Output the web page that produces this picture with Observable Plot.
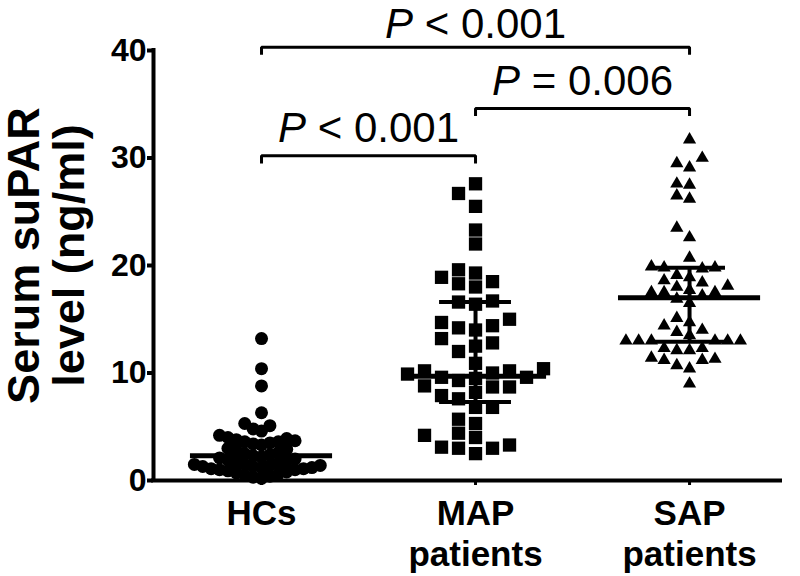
<!DOCTYPE html>
<html>
<head>
<meta charset="utf-8">
<script src="https://cdn.jsdelivr.net/npm/d3@7"></script>
<script src="https://cdn.jsdelivr.net/npm/@observablehq/plot@0.6"></script>
<style>
  html, body { margin: 0; padding: 0; background: #fff; }
</style>
</head>
<body>
<script>
// ---- data ----
const categories = ["HCs", "MAP patients", "SAP patients"];
const tickLabels = ["HCs", "MAP\npatients", "SAP\npatients"];

const hcs = [13.2, 10.4, 8.8, 6.3, 5.3, 5.1, 4.8, 4.6,
  4.2, 4.0, 3.9, 3.8, 3.7, 3.6, 3.6, 3.5, 3.4, 3.3,
  3.0, 2.9, 2.8, 2.6, 2.5, 2.4, 2.3, 2.2, 2.1, 2.0,
  1.9, 1.8, 1.7, 1.6, 1.5, 1.5, 1.4, 1.4, 1.3, 1.3, 1.2, 1.2, 1.1, 1.1, 1.0, 1.0,
  0.9, 0.8, 0.7, 0.6, 0.5, 0.4, 0.3, 0.2];

const mapPatients = [27.6, 26.7, 25.5, 23.3, 22.0, 19.6, 19.3, 18.9, 18.5, 18.3, 18.0,
  16.7, 16.6, 16.4, 15.0, 14.7, 14.4, 14.2, 14.0, 13.2, 12.8, 12.5, 12.0,
  10.9, 10.4, 10.2, 10.2, 10.0, 9.9, 9.6, 9.6, 9.5, 9.3, 8.8, 8.7, 8.7, 8.2, 7.9, 7.6,
  6.8, 6.8, 5.7, 5.3, 4.4, 4.2, 4.0, 3.3, 3.1, 3.0, 3.0, 2.5];

const sapPatients = [31.7, 30.0, 29.5, 29.1, 27.6, 27.5, 26.5, 26.2, 23.5, 22.6, 20.7,
  19.9, 19.8, 19.8, 19.7, 19.1, 18.9, 18.6, 18.4, 18.1, 18.0, 17.7, 17.5, 17.5, 17.5,
  17.2, 16.9, 16.5, 15.1, 14.7, 14.4, 14.0, 13.8, 13.5,
  13.0, 13.0, 13.0, 13.0, 13.0, 13.0, 12.3, 12.3, 12.1, 12.1,
  11.4, 11.3, 11.2, 11.2, 10.7, 10.4, 9.0];

// median and interquartile range as drawn
const medians = [2.3, 9.7, 17.0];
const q1s = [1.2, 7.3, 12.9];
const q3s = [3.4, 16.6, 19.8];

// significance brackets
const bracketFrom = [1, 2, 1];
const bracketTo = [3, 3, 2];
const bracketLevel = [40.3, 34.6, 30.2];
const bracketLabel = ["P < 0.001", "P = 0.006", "P < 0.001"];

const yTicks = [0, 10, 20, 30, 40];

// ---- layout ----
const W = 800, H = 576;
const mL = 153, mR = 20, mT = 50, mB = 96;
const xDomain = [0.4953, 3.425];
const yDomain = [0, 40];
const pxX = (W - mL - mR) / (xDomain[1] - xDomain[0]);
const pxY = (H - mT - mB) / (yDomain[1] - yDomain[0]);

// beeswarm offsets (pixels) computed from values
function swarm(values, w0, h0, maxHalf) {
  let w = w0, h = h0, off;
  for (let iter = 0; iter < 60; iter++) {
    const order = d3.range(values.length).sort((a, b) => values[a] - values[b]);
    const placed = [];
    off = new Array(values.length);
    for (const i of order) {
      const y = values[i] * pxY;
      const near = placed.filter(p => Math.abs(p.y - y) < h);
      const cands = [0];
      for (const p of near) cands.push(p.x + w, p.x - w);
      cands.sort((a, b) => Math.abs(a) - Math.abs(b) || a - b);
      let x = 0;
      for (const c of cands) {
        if (near.every(p => Math.abs(p.x - c) >= w - 1e-6)) { x = c; break; }
      }
      placed.push({x, y});
      off[i] = x;
    }
    if (d3.max(off, Math.abs) <= maxHalf) break;
    w *= 0.93; h *= 0.97;
  }
  return off;
}

const groups = [hcs, mapPatients, sapPatients];
const points = [];
groups.forEach((vals, gi) => {
  const off = swarm(vals, gi === 0 ? 15 : 17, 13, 68);
  vals.forEach((v, j) => points.push({group: categories[gi], gi: gi + 1, value: v, x: gi + 1 + off[j] / pxX}));
});

const summary = categories.map((c, i) => ({i: i + 1, median: medians[i], q1: q1s[i], q3: q3s[i]}));
const brackets = bracketLabel.map((t, i) => ({id: i, a: bracketFrom[i], b: bracketTo[i], y: bracketLevel[i], label: t}));
const topLevel = d3.max(bracketLevel);
const drop = 0.7;
const bracketPath = brackets.flatMap(b => [
  {id: b.id, x: b.a, y: b.y - drop},
  {id: b.id, x: b.a, y: b.y},
  {id: b.id, x: b.b, y: b.y},
  {id: b.id, x: b.b, y: b.y - drop}
]);

const font = "Liberation Sans, Arial, Helvetica, sans-serif";
const labelStyle = {x: d => (d.a + d.b) / 2, y: "y", text: "label", lineAnchor: "bottom",
  fontSize: 42, fontWeight: "normal", fill: "black"};

const chart = Plot.plot({
  width: W, height: H,
  marginLeft: mL, marginRight: mR, marginTop: mT, marginBottom: mB,
  style: {fontFamily: font, background: "#fff", color: "#000", overflow: "visible"},
  x: {domain: xDomain, axis: null},
  y: {domain: yDomain, axis: null},
  marks: [
    // points
    Plot.dot(points.filter(d => d.gi === 1), {x: "x", y: "value", r: 6.5, fill: "black", symbol: "circle"}),
    Plot.dot(points.filter(d => d.gi === 2), {x: "x", y: "value", r: 7.5, fill: "black", symbol: "square"}),
    Plot.dot(points.filter(d => d.gi === 3), {x: "x", y: "value", r: 4.9, fill: "black", symbol: "triangle"}),
    // median + IQR
    Plot.ruleY(summary, {y: "median", x1: d => d.i - 0.332, x2: d => d.i + 0.332, strokeWidth: 5, stroke: "black"}),
    Plot.ruleY(summary, {y: "q1", x1: d => d.i - 0.168, x2: d => d.i + 0.168, strokeWidth: 4, stroke: "black"}),
    Plot.ruleY(summary, {y: "q3", x1: d => d.i - 0.168, x2: d => d.i + 0.168, strokeWidth: 4, stroke: "black"}),
    Plot.ruleX(summary, {x: "i", y1: "q1", y2: "q3", strokeWidth: 4, stroke: "black"}),
    // axes lines
    Plot.ruleY([yDomain[0]], {strokeWidth: 4, stroke: "black", strokeLinecap: "square"}),
    Plot.ruleX([xDomain[0]], {strokeWidth: 4, stroke: "black", strokeLinecap: "square"}),
    Plot.axisY({ticks: yTicks, tickSize: 6, tickPadding: 1, fontSize: 32, fontWeight: "bold", strokeWidth: 4, anchor: "left"}),
    Plot.axisX({ticks: [1, 2, 3], tickSize: 5, tickFormat: () => "", strokeWidth: 3, anchor: "bottom"}),
    // category labels
    Plot.text(tickLabels, {x: (d, i) => i + 1, text: d => d, frameAnchor: "bottom", lineAnchor: "top", dy: 15,
      fontSize: 35, fontWeight: "bold", lineHeight: 1.17}),
    // y title
    Plot.text(["Serum suPAR\nlevel (ng/ml)"], {text: d => d, frameAnchor: "left", rotate: -90, dx: -106, dy: -10,
      fontSize: 45, fontWeight: "bold", lineHeight: 1.0, textAnchor: "middle"}),
    // significance brackets
    Plot.line(bracketPath, {x: "x", y: "y", z: "id", stroke: "black", strokeWidth: 3, strokeLinejoin: "miter", strokeLinecap: "butt"}),
    Plot.text(brackets.filter(b => b.y < topLevel), {...labelStyle, dy: -14}),
    Plot.text(brackets.filter(b => b.y === topLevel), {...labelStyle, dy: -9})
  ]
});

// italic "P" in the significance labels
chart.querySelectorAll("text").forEach(t => {
  const s = t.textContent;
  if (/^P [<=]/.test(s) && t.children.length === 0) {
    t.textContent = "";
    const a = document.createElementNS("http://www.w3.org/2000/svg", "tspan");
    a.setAttribute("font-style", "italic");
    a.textContent = "P";
    const b = document.createElementNS("http://www.w3.org/2000/svg", "tspan");
    b.textContent = s.slice(1);
    t.append(a, b);
  }
});

document.body.append(chart);
</script>
</body>
</html>
